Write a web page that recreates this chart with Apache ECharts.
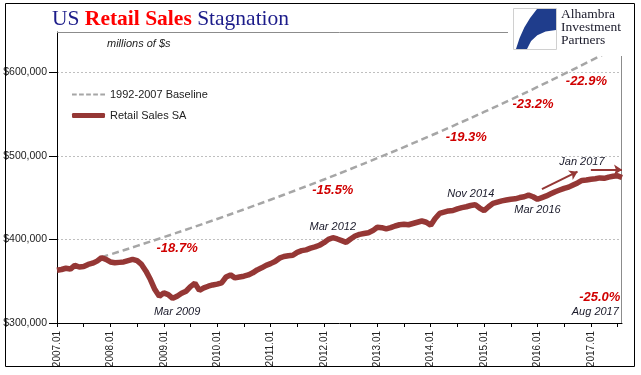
<!DOCTYPE html>
<html>
<head>
<meta charset="utf-8">
<script src="https://cdn.jsdelivr.net/npm/echarts@6/dist/echarts.min.js"></script>
<style>
  html, body { margin: 0; padding: 0; background: #ffffff; }
  #chart { width: 641px; height: 375px; }
</style>
</head>
<body>
<div id="chart"></div>
<script>
// months 2007.01 .. 2017.08
const startYear = 2007
const months = []
for (let i = 0; i < 128; i++) {
  const y = startYear + Math.floor(i / 12)
  const m = (i % 12) + 1
  months.push(y + '.' + (m < 10 ? '0' + m : m))
}

// Retail Sales SA, millions of $
const retailSales = [
  363000, 364000, 365500, 364500, 369000, 367000, 367500, 370000, 371500, 374000, 378000, 376000,
  373000, 372000, 372500, 373000, 374500, 376000, 374500, 370000, 362000, 352000, 340000, 332000,
  336000, 334000, 329500, 332000, 335500, 338000, 343500, 347500, 339000, 342000, 344000, 345500,
  346500, 348000, 355000, 357500, 354000, 355000, 356000, 357500, 360000, 363500, 366000, 369000,
  371000, 373500, 377500, 379500, 380500, 381000, 384500, 386500, 387500, 389500, 391000, 393000,
  396000, 400000, 402000, 400500, 398500, 396500, 400500, 404000, 406000, 407000, 408000, 410500,
  414500, 414000, 412500, 414000, 416000, 417500, 418000, 417500, 419000, 420500, 422000, 420500,
  417000, 425000, 431000, 432500, 434000, 434500, 436500, 438000, 439000, 440500, 441500, 437500,
  434500, 439000, 443000, 444500, 446000, 447000, 448000, 448500, 450000, 451000, 453000, 451000,
  448000, 450000, 452000, 454500, 457000, 459000, 461000, 462500, 465000, 467500, 470500, 471000,
  472000, 472500, 473500, 473000, 474500, 475500, 476000, 474000
]

// 1992-2007 baseline, [month index, value]
const baseline = [
  [10, 379000], [12, 382000], [18, 392200], [24, 402700], [30, 413400], [36, 424400],
  [42, 435800], [48, 447400], [54, 459400], [60, 471600], [66, 484200], [72, 497100],
  [78, 510400], [84, 524000], [90, 538000], [96, 552400], [102, 567100], [108, 582300],
  [114, 597800], [120, 613800], [127, 633000]
]

// gap annotations
const gapText = ['-18.7%', '-15.5%', '-19.3%', '-23.2%', '-22.9%', '-25.0%']
const gapAt = [[27.2, 388600], [61.8, 458000], [92.1, 521600], [107.4, 561000], [119.1, 588600], [121.6, 331000]]

// date annotations
const dateText = ['Mar 2009', 'Mar 2012', 'Nov 2014', 'Mar 2016', 'Jan 2017', 'Aug 2017']
const dateAt = [[26.7, 313000], [62, 415000], [92.6, 454500], [107.9, 435000], [118.4, 492800], [121.1, 313000]]

// trend arrows
const arrows = [
  [[109, 460000], [117, 481000]],
  [[119.5, 483200], [127, 483200]]
]

const retailColor = '#953735'
const baseColor = '#a6a6a6'
const sans = '"Liberation Sans", Arial, sans-serif'
const serif = '"Liberation Serif", "DejaVu Serif", serif'
const dashIcon = 'path://M0,0h5v2h-5z M7.5,0h5v2h-5z M15,0h5v2h-5z M22.5,0h5v2h-5z M30,0h5v2h-5z'

function money(v) {
  return '$' + String(v).replace(/\B(?=(\d{3})+(?!\d))/g, ',')
}

const notes = []
gapText.forEach((t, i) => {
  notes.push({
    coord: gapAt[i],
    symbolSize: 0,
    label: {
      show: true, position: 'inside', formatter: t,
      color: '#d00000', fontSize: 13, fontWeight: 'bold', fontStyle: 'italic', fontFamily: sans
    }
  })
})
dateText.forEach((t, i) => {
  notes.push({
    coord: dateAt[i],
    symbolSize: 0,
    label: {
      show: true, position: 'inside', formatter: t,
      color: '#1a1a2a', fontSize: 11, fontStyle: 'italic', fontFamily: sans
    }
  })
})

const chart = echarts.init(document.getElementById('chart'))
chart.setOption({
  backgroundColor: '#ffffff',
  animation: false,
  title: {
    text: '{a|US }{b|Retail Sales}{a| Stagnation}',
    left: 52,
    top: 8,
    padding: 0,
    textStyle: {
      rich: {
        a: { fontFamily: serif, fontSize: 21.5, fontWeight: 'normal', color: '#1c1c8a' },
        b: { fontFamily: serif, fontSize: 21.5, fontWeight: 'bold', color: '#ff0000' }
      }
    }
  },
  legend: {
    orient: 'vertical',
    left: 72,
    top: 89,
    padding: 0,
    itemWidth: 33,
    itemHeight: 5,
    itemGap: 10,
    textStyle: { fontFamily: sans, fontSize: 11, color: '#222222' },
    data: [
      { name: '1992-2007 Baseline', icon: dashIcon, itemStyle: { color: baseColor } },
      { name: 'Retail Sales SA', icon: 'roundRect', itemStyle: { color: retailColor } }
    ]
  },
  grid: { left: 57, right: 19, top: 32, bottom: 52 },
  xAxis: {
    type: 'category',
    data: months,
    boundaryGap: false,
    axisLine: { lineStyle: { color: '#000000', width: 1 } },
    axisTick: { interval: 5, length: 4, lineStyle: { color: '#000000' } },
    axisLabel: {
      interval: 11, rotate: 90, margin: 8,
      fontFamily: sans, fontSize: 10, color: '#222222'
    },
    splitLine: { show: false }
  },
  yAxis: {
    type: 'value',
    min: 300000,
    max: 648000,
    interval: 100000,
    axisLine: { show: true, lineStyle: { color: '#000000', width: 1 } },
    axisTick: { show: true, length: 8, lineStyle: { color: '#000000' } },
    axisLabel: {
      showMaxLabel: false, margin: 10,
      fontFamily: sans, fontSize: 10.5, color: '#222222',
      formatter: money
    },
    splitLine: { lineStyle: { color: '#bfbfbf', type: [2, 2], width: 1 } }
  },
  series: [
    {
      name: '1992-2007 Baseline',
      type: 'line',
      data: baseline,
      symbol: 'none',
      smooth: true,
      z: 2,
      itemStyle: { color: baseColor },
      lineStyle: { color: baseColor, width: 2.5, type: [7, 4] }
    },
    {
      name: 'Retail Sales SA',
      type: 'line',
      data: retailSales,
      symbol: 'none',
      z: 3,
      itemStyle: { color: retailColor },
      lineStyle: { color: retailColor, width: 5.5 },
      markPoint: { symbol: 'circle', data: notes, z: 5 },
      markLine: {
        silent: true,
        symbol: ['none', 'arrow'],
        symbolSize: 8,
        label: { show: false },
        lineStyle: { color: retailColor, width: 2, type: 'solid' },
        data: arrows.map(a => [{ coord: a[0] }, { coord: a[1] }])
      }
    }
  ],
  graphic: [
    { type: 'line', shape: { x1: 57, y1: 32.5, x2: 622, y2: 32.5 }, style: { stroke: '#8c8c8c', lineWidth: 1 }, z: 1 },
    { type: 'line', shape: { x1: 621.5, y1: 32, x2: 621.5, y2: 323 }, style: { stroke: '#8c8c8c', lineWidth: 1 }, z: 1 },
    { type: 'rect', shape: { x: 508, y: 4, width: 126, height: 52 }, style: { fill: '#ffffff' }, z: 10 },
    { type: 'rect', shape: { x: 513.5, y: 8.5, width: 43, height: 41 }, style: { fill: '#ffffff', stroke: '#d0d0d0', lineWidth: 1 }, z: 11 },
    {
      type: 'polygon', z: 12,
      shape: {
        points: [[537, 9], [556, 9], [556, 30], [545.6, 31.6], [537.3, 35.3], [531.1, 41.1], [527, 49],
          [516, 49], [519.6, 37.9], [524.3, 27.5], [530.1, 17.9]]
      },
      style: { fill: '#1f3d8c' }
    },
    { type: 'text', left: 561, top: 7, z: 12, style: { text: 'Alhambra', font: '13.5px ' + serif, fill: '#1a1a2a' } },
    { type: 'text', left: 561, top: 20, z: 12, style: { text: 'Investment', font: '13.5px ' + serif, fill: '#1a1a2a' } },
    { type: 'text', left: 561, top: 33, z: 12, style: { text: 'Partners', font: '13.5px ' + serif, fill: '#1a1a2a' } },
    { type: 'text', left: 107, top: 38, z: 12, style: { text: 'millions of $s', font: 'italic 11px ' + sans, fill: '#222222' } },
    { type: 'rect', shape: { x: 5.5, y: 3.5, width: 629, height: 363 }, style: { fill: 'none', stroke: '#000000', lineWidth: 1 }, z: 20 }
  ]
})
</script>
</body>
</html>
